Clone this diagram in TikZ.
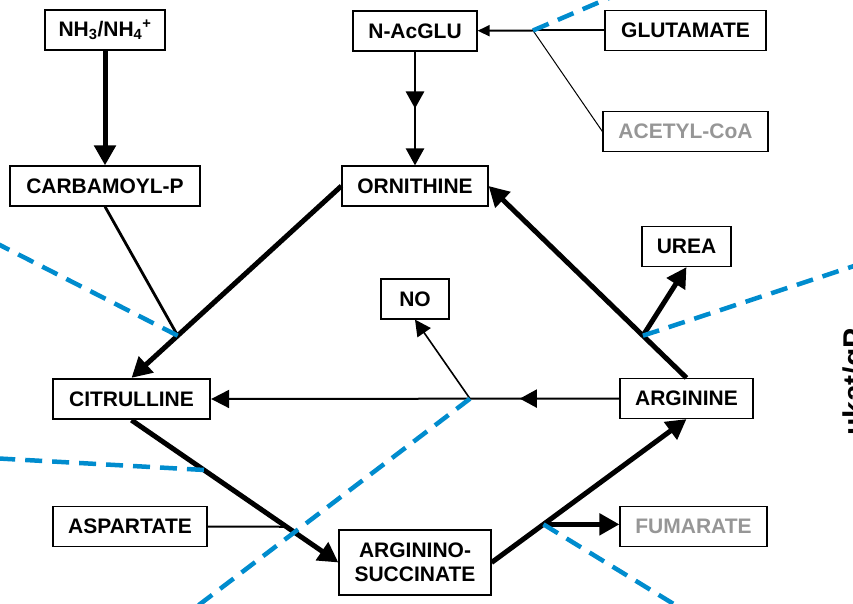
\documentclass[tikz,border=0pt]{standalone}
\usepackage{fontspec}
\setmainfont{Liberation Sans}
\usetikzlibrary{arrows.meta,decorations.markings,calc}

\definecolor{cutblue}{RGB}{0,140,206}
\definecolor{sidegray}{RGB}{150,150,150}

\begin{document}
\begin{tikzpicture}[x=1pt,y=-1pt,
    bx/.style={draw,line width=1.2pt,inner sep=0pt,minimum height=40pt,
      font=\fontsize{21}{24}\selectfont\bfseries,align=center},
    fat/.style={line width=5pt,-{Triangle[length=20pt,width=21pt]}},
    slim/.style={line width=2pt},
    midtip/.style={postaction={decorate},decoration={markings,
      mark=at position #1 with {\arrow{Triangle[length=17pt,width=18pt]}}}},
    cut/.style={cutblue,line width=4.5pt,dash pattern=on 17pt off 10pt}]
    \useasboundingbox (0,0) rectangle (853,604);
    \clip (0,0) rectangle (853,604);

    % metabolites
    \node[bx,minimum width=120pt] (nh) at (105,30) {NH\textsubscript{3}/NH\textsubscript{4}\textsuperscript{+}};
    \node[bx,minimum width=190pt] (carb) at (105,186) {CARBAMOYL-P};
    \node[bx,minimum width=124pt] (nac) at (415,31) {N-AcGLU};
    \node[bx,minimum width=161pt] (glu) at (685.5,30.5) {GLUTAMATE};
    \node[bx,minimum width=165pt,text=sidegray] (acoa) at (685.5,131.5) {ACETYL-CoA};
    \node[bx,minimum width=146pt] (orn) at (415,186) {ORNITHINE};
    \node[bx,minimum width=89pt] (urea) at (686.5,246.5) {UREA};
    \node[bx,minimum width=68pt] (no) at (415,299) {NO};
    \node[bx,minimum width=157pt,line width=2.3pt] (cit) at (131.5,399) {CITRULLINE};
    \node[bx,minimum width=133pt] (arg) at (686.5,398.5) {ARGININE};
    \node[bx,minimum width=154pt] (asp) at (130,526.5) {ASPARTATE};
    \node[bx,minimum width=152pt,minimum height=65pt] (asuc) at (415,562.5) {ARGININO-\\SUCCINATE};
    \node[bx,minimum width=147pt,text=sidegray] (fum) at (693.5,526.5) {FUMARATE};
    \node[rotate=90,anchor=base,font=\fontsize{30}{36}\selectfont\bfseries] (unit) at (864,382) {µkat/gP};

    % entry into the cycle
    \draw[fat] (nh) -- (carb);
    \draw[line width=2.6pt,midtip=0.5,-{Triangle[length=17pt,width=18pt]}] (nac) -- (orn);
    \coordinate (gj) at (533,30.5);
    \draw[slim] (glu) -- (gj);
    \draw[slim,-{Triangle[length=12pt,width=11pt]}] (gj) -- (nac);
    \draw[line width=1pt] (acoa.west) -- (gj);

    % the cycle
    \draw[fat] (orn.west) -- (cit.north);
    \coordinate (cj) at ($(orn.west)!0.78!(cit.north)$);
    \draw[line width=2.8pt] (carb.south) -- (cj);
    \draw[fat] (cit.south) -- (asuc.west);
    \coordinate (sj) at ($(cit.south)!0.749!(asuc.west)$);
    \coordinate (lj) at ($(cit.south)!0.35!(asuc.west)$);
    \draw[slim] (asp.east) -- (sj);
    \draw[fat] (asuc.east) -- (arg.south);
    \coordinate (fj) at ($(asuc.east)!0.266!(arg.south)$);
    \draw[fat] (fj) -- (fj -| fum.west);
    \draw[fat] (arg.north) -- (orn.east);
    \coordinate (aj) at ($(arg.north)!0.22!(orn.east)$);
    \draw[fat] (aj) -- (urea.south);
    \draw[slim,midtip=0.244,-{Triangle[length=18pt,width=18pt]}] (arg.west) -- (cit.east);
    \coordinate (nj) at ($(arg.west)!0.366!(cit.east)$);
    \draw[line width=1.6pt,-{Triangle[length=16pt,width=16pt]}] (nj) -- (no.south);

    % compartment borders
    \coordinate (c1) at (616,-5);
    \coordinate (c2) at (-10,240);
    \coordinate (c3) at (863,263);
    \coordinate (c4) at (187,614);
    \coordinate (c5) at (-10,458);
    \coordinate (c6) at (690,614);
    \foreach \a/\b in {gj/c1,cj/c2,aj/c3,nj/c4,lj/c5,fj/c6}
      \draw[cut] (\a) -- (\b);
\end{tikzpicture}
\end{document}
